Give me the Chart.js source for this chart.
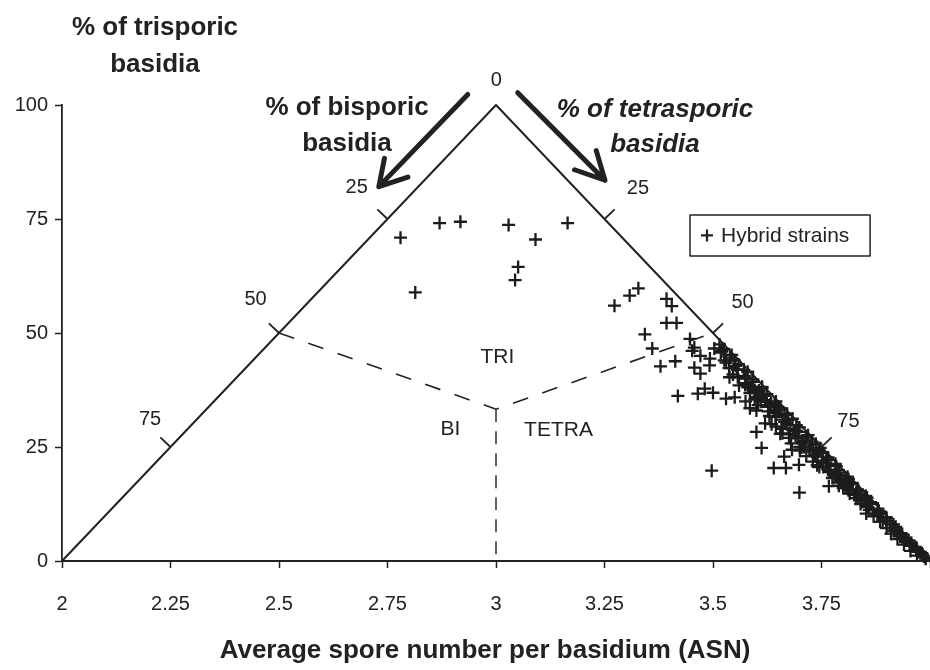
<!DOCTYPE html>
<html>
<head>
<meta charset="utf-8">
<title>Ternary ASN plot</title>
<script src="https://cdn.jsdelivr.net/npm/chart.js@4.4.0/dist/chart.umd.min.js"></script>
<style>
  html, body { margin: 0; padding: 0; background: #fff; }
</style>
</head>
<body>
<canvas id="asnChart" width="930" height="670"></canvas>
<script>
// hybrid strains: average spore number (x) and % of trisporic basidia (y)
const hybridAsn = [
  2.780, 2.870, 2.918, 3.029, 3.091, 3.165, 3.051, 3.044, 2.814,
  3.273, 3.308, 3.328, 3.393, 3.405, 3.393, 3.416, 3.343, 3.360, 3.447, 3.457, 3.452,
  3.379, 3.413, 3.471, 3.493, 3.503, 3.457, 3.471, 3.492, 3.526, 3.549, 3.538, 3.557,
  3.419, 3.465, 3.481, 3.500, 3.530, 3.550, 3.585, 3.604, 3.620, 3.580, 3.596, 3.603,
  3.634, 3.650,
  3.497, 3.612, 3.600, 3.640, 3.668, 3.698, 3.664, 3.682, 3.704, 3.699, 3.767, 3.853,
  3.515, 3.520, 3.543, 3.530, 3.559, 3.537, 3.580, 3.574, 3.592, 3.575, 3.613, 3.606,
  3.624, 3.602, 3.645, 3.632, 3.655, 3.627, 3.665, 3.683, 3.665, 3.692, 3.660, 3.697,
  3.719, 3.696, 3.728, 3.725, 3.747, 3.744, 3.736, 3.765, 3.760, 3.782, 3.754, 3.789,
  3.783, 3.810, 3.804, 3.821, 3.806, 3.833, 3.830, 3.852, 3.849, 3.863, 3.853, 3.880,
  3.880, 3.879, 3.900, 3.899, 3.916, 3.917, 3.916, 3.936, 3.936, 3.951, 3.953, 3.966,
  3.969, 3.981, 3.986,
  3.560, 3.585, 3.575, 3.610, 3.600, 3.630, 3.620, 3.645, 3.655, 3.675, 3.680, 3.700,
  3.715, 3.730, 3.745, 3.770, 3.775, 3.790, 3.800, 3.815, 3.830, 3.840, 3.860, 3.870,
  3.885, 3.900, 3.910, 3.925, 3.940, 3.955, 3.970, 3.990,
  3.525, 3.518, 3.539, 3.530, 3.552, 3.571, 3.546, 3.574, 3.592, 3.574, 3.613, 3.600,
  3.618, 3.596, 3.642, 3.627, 3.650, 3.671, 3.644, 3.673, 3.670, 3.699, 3.692, 3.677,
  3.714, 3.708, 3.737, 3.710, 3.738, 3.753, 3.741, 3.763, 3.760, 3.784, 3.765, 3.791,
  3.787, 3.812, 3.806, 3.822, 3.810, 3.835, 3.834, 3.855, 3.850, 3.865, 3.857, 3.882,
  3.882, 3.899, 3.891, 3.908, 3.921, 3.920, 3.933, 3.931, 3.945, 3.957, 3.957, 3.969,
  3.972, 3.983, 3.990,
  3.575, 3.590, 3.612, 3.628, 3.645, 3.660, 3.678, 3.690, 3.705, 3.722, 3.735, 3.752,
  3.768, 3.780, 3.795, 3.810, 3.825, 3.842, 3.556, 3.600, 3.640, 3.686, 3.730, 3.770,
  3.812, 3.635, 3.660, 3.700, 3.740, 3.790
];
const hybridTri = [
  70.9, 74.1, 74.4, 73.7, 70.5, 74.1, 64.5, 61.6, 58.9,
  56.0, 58.2, 59.8, 57.5, 55.9, 52.2, 52.2, 49.7, 46.6, 48.7, 46.8, 46.1,
  42.7, 43.8, 45.0, 44.4, 46.6, 42.4, 41.1, 42.9, 44.0, 44.0, 40.3, 40.3,
  36.2, 36.7, 37.8, 36.9, 35.6, 35.9, 33.5, 34.2, 35.3, 38.1, 37.5, 36.0,
  34.7, 33.8,
  19.8, 24.8, 28.3, 20.4, 20.4, 21.1, 22.9, 24.4, 24.9, 15.0, 16.4, 10.4,
  47.5, 46.0, 45.2, 44.0, 43.1, 42.3, 41.5, 40.6, 39.8, 39.0, 38.2, 37.4,
  36.6, 35.8, 35.0, 34.3, 33.5, 32.8, 32.0, 31.2, 30.5, 29.8, 29.0, 28.3,
  27.6, 26.9, 26.2, 25.5, 24.8, 24.1, 23.4, 22.7, 22.0, 21.3, 20.6, 19.9,
  19.2, 18.5, 17.8, 17.1, 16.4, 15.7, 15.0, 14.3, 13.6, 12.9, 12.2, 11.5,
  10.8, 10.1, 9.4, 8.7, 8.0, 7.3, 6.6, 5.9, 5.2, 4.5, 3.8, 3.1,
  2.4, 1.7, 1.0,
  38.5, 36.8, 35.0, 34.9, 33.0, 31.8, 30.2, 29.5, 27.9, 27.0, 25.8, 24.2,
  23.0, 21.8, 20.6, 19.5, 18.2, 17.2, 16.0, 14.8, 13.8, 12.5, 11.2, 9.8,
  8.6, 7.2, 6.0, 4.8, 3.6, 2.2, 1.2, 0.5,
  46.5, 45.7, 44.6, 43.5, 42.8, 41.9, 40.9, 40.1, 39.3, 38.6, 37.9, 37.0,
  36.2, 35.4, 34.6, 33.8, 33.0, 32.3, 31.6, 30.9, 30.0, 29.3, 28.6, 27.8,
  27.1, 26.4, 25.7, 25.0, 24.4, 23.7, 22.9, 22.2, 21.5, 20.8, 20.0, 19.4,
  18.8, 18.0, 17.4, 16.8, 16.0, 15.3, 14.6, 13.9, 13.2, 12.5, 11.8, 11.0,
  10.3, 9.6, 8.9, 8.2, 7.5, 6.8, 6.1, 5.4, 4.7, 4.0, 3.3, 2.7,
  2.0, 1.4, 0.8,
  40.0, 38.0, 36.0, 34.0, 32.5, 31.0, 29.0, 27.5, 26.0, 24.5, 23.0, 21.5,
  20.0, 18.8, 17.5, 16.0, 14.5, 13.0, 42.0, 37.0, 33.0, 28.5, 24.0, 19.8,
  15.5, 30.0, 28.0, 25.0, 21.0, 16.5
];

// triangle outline (BI-TRI-TETRA) and zone boundaries
const triangleAsn = [2, 3, 4];
const triangleTri = [0, 100, 0];
const zoneAsn = [2.5, 3, 3.5];
const zoneTri = [50, 33.3, 50];
const splitAsn = [3, 3];
const splitTri = [33.3, 0];

// ternary edge ticks (% bisporic on left edge, % tetrasporic on right edge)
const edgeTicks = [25, 50, 75];
const edgeTickLabels = ['25', '50', '75'];

const seriesLabel = 'Hybrid strains';
const FONT = '"Liberation Sans", Arial, Helvetica, sans-serif';
const INK = '#222';

const toPoints = (xs, ys) => xs.map((x, i) => ({ x: x, y: ys[i] }));

const annotations = {
  id: 'annotations',
  afterDatasetsDraw(chart) {
    const ctx = chart.ctx;
    const xs = chart.scales.x;
    const ys = chart.scales.y;
    const px = v => xs.getPixelForValue(v);
    const py = v => ys.getPixelForValue(v);

    ctx.save();
    ctx.strokeStyle = INK;
    ctx.fillStyle = INK;

    // small ticks on the two slanted edges, pointing outward
    const apex = [px(3), py(100)];
    const left0 = [px(2), py(0)];
    const right0 = [px(4), py(0)];
    const unit = (a, b) => {
      const dx = b[0] - a[0], dy = b[1] - a[1];
      const l = Math.hypot(dx, dy);
      return [dx / l, dy / l];
    };
    const lv = unit(left0, apex);
    const rv = unit(apex, right0);
    const ln = [lv[1], -lv[0]];
    const rn = [-rv[1], rv[0]];
    ctx.lineWidth = 1.8;
    edgeTicks.forEach(p => {
      const tri = 100 - p;
      const lp = [px(2 + tri / 100), py(tri)];
      const rp = [px(3 + p / 100), py(tri)];
      ctx.beginPath();
      ctx.moveTo(lp[0], lp[1]);
      ctx.lineTo(lp[0] + ln[0] * 14, lp[1] + ln[1] * 14);
      ctx.moveTo(rp[0], rp[1]);
      ctx.lineTo(rp[0] - rn[0] * 14, rp[1] - rn[1] * 14);
      ctx.stroke();
    });

    // edge tick labels
    ctx.font = '20px ' + FONT;
    ctx.textAlign = 'center';
    ctx.textBaseline = 'middle';
    const leftLabelPos = [[2.679, 82.0], [2.446, 57.4], [2.203, 31.0]];
    const rightLabelPos = [[3.327, 81.8], [3.568, 56.7], [3.812, 30.7]];
    edgeTickLabels.forEach((t, i) => {
      ctx.fillText(t, px(leftLabelPos[i][0]), py(leftLabelPos[i][1]));
      ctx.fillText(t, px(rightLabelPos[i][0]), py(rightLabelPos[i][1]));
    });
    ctx.fillText('0', px(3.001), py(105.3));

    // zone names
    ctx.font = '21px ' + FONT;
    ctx.fillText('TRI', px(3.003), py(44.7));
    ctx.fillText('BI', px(2.895), py(28.8));
    ctx.fillText('TETRA', px(3.144), py(28.7));

    // arrows showing reading direction of the slanted edges
    ctx.lineWidth = 5;
    ctx.lineCap = 'round';
    ctx.lineJoin = 'round';
    const arrow = (s, t, b1, b2) => {
      ctx.beginPath();
      ctx.moveTo(px(s[0]), py(s[1]));
      ctx.lineTo(px(t[0]), py(t[1]));
      ctx.moveTo(px(b1[0]), py(b1[1]));
      ctx.lineTo(px(t[0]), py(t[1]));
      ctx.lineTo(px(b2[0]), py(b2[1]));
      ctx.stroke();
    };
    arrow([2.935, 102.3], [2.730, 82.1], [2.743, 88.3], [2.797, 84.2]);
    arrow([3.050, 102.7], [3.251, 83.5], [3.231, 90.0], [3.181, 85.8]);

    // titles
    ctx.textBaseline = 'alphabetic';
    ctx.font = 'bold 26px ' + FONT;
    ctx.fillText('% of trisporic', 155, 35);
    ctx.fillText('basidia', 155, 72);
    ctx.fillText('% of bisporic', 347, 115);
    ctx.fillText('basidia', 347, 151);
    ctx.font = 'italic bold 26px ' + FONT;
    ctx.fillText('% of tetrasporic', 655, 117);
    ctx.fillText('basidia', 655, 152);
    ctx.font = 'bold 26px ' + FONT;
    ctx.fillText('Average spore number per basidium (ASN)', 485, 658);

    // legend box
    const bx = px(3.447), by = py(75.9), bx2 = px(3.862), by2 = py(66.9);
    ctx.lineWidth = 1.5;
    ctx.strokeRect(bx, by, bx2 - bx, by2 - by);
    const my = (by + by2) / 2;
    ctx.lineWidth = 2.2;
    ctx.lineCap = 'butt';
    ctx.beginPath();
    ctx.moveTo(bx + 11, my);
    ctx.lineTo(bx + 23, my);
    ctx.moveTo(bx + 17, my - 6);
    ctx.lineTo(bx + 17, my + 6);
    ctx.stroke();
    ctx.font = '21px ' + FONT;
    ctx.textAlign = 'left';
    ctx.textBaseline = 'middle';
    ctx.fillText(seriesLabel, bx + 31, my + 1);

    ctx.restore();
  }
};

const axisGrid = {
  drawOnChartArea: false,
  drawTicks: true,
  tickLength: 7,
  tickColor: INK,
  tickWidth: 1.5
};

new Chart(document.getElementById('asnChart'), {
  type: 'scatter',
  data: {
    datasets: [
      {
        label: seriesLabel,
        data: toPoints(hybridAsn, hybridTri),
        pointStyle: 'cross',
        pointRadius: 6.5,
        borderColor: '#1c1c1c',
        borderWidth: 2.3,
        clip: false
      },
      {
        label: 'triangle',
        data: toPoints(triangleAsn, triangleTri),
        showLine: true,
        pointRadius: 0,
        borderColor: INK,
        borderWidth: 2,
        clip: false
      },
      {
        label: 'zones',
        data: toPoints(zoneAsn, zoneTri),
        showLine: true,
        pointRadius: 0,
        borderColor: INK,
        borderWidth: 1.6,
        borderDash: [16, 15]
      },
      {
        label: 'split',
        data: toPoints(splitAsn, splitTri),
        showLine: true,
        pointRadius: 0,
        borderColor: INK,
        borderWidth: 1.4,
        borderDash: [13, 9]
      }
    ]
  },
  options: {
    responsive: false,
    animation: false,
    layout: { autoPadding: false, padding: { top: 105, right: 0, left: 0, bottom: 0 } },
    plugins: {
      legend: { display: false },
      tooltip: { enabled: false }
    },
    scales: {
      x: {
        type: 'linear',
        min: 2,
        max: 4,
        afterFit: s => {
          s.height = 109;
          s.paddingLeft = 0;
          s.paddingRight = 0;
        },
        ticks: {
          stepSize: 0.25,
          padding: 24,
          color: INK,
          font: { family: FONT, size: 20 },
          maxRotation: 0,
          callback: v => (v >= 4 ? '' : v)
        },
        grid: axisGrid,
        border: { color: INK, width: 2 }
      },
      y: {
        min: 0,
        max: 100,
        afterFit: s => { s.width = 62; },
        ticks: {
          stepSize: 25,
          padding: 7,
          color: INK,
          font: { family: FONT, size: 20 }
        },
        grid: axisGrid,
        border: { color: INK, width: 1.8 }
      }
    }
  },
  plugins: [annotations]
});
</script>
</body>
</html>
